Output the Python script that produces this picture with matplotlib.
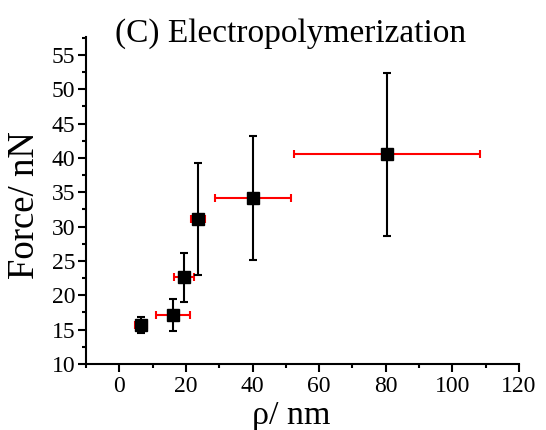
import matplotlib
matplotlib.use('Agg')
import matplotlib.pyplot as plt
from matplotlib.ticker import MultipleLocator

plt.rcParams['font.family'] = ['Liberation Serif', 'DejaVu Serif']

# pore size (nm) vs force (nN)
rho = [6.5, 16.1, 19.4, 23.6, 40.0, 80.4]
rho_err = [1.8, 5.2, 3.1, 2.2, 11.4, 28.0]
force = [15.7, 17.1, 22.6, 31.1, 34.2, 40.5]
force_err = [1.2, 2.3, 3.6, 8.1, 9.0, 11.8]

fig = plt.figure(figsize=(5.46, 4.30), dpi=100)
ax = fig.add_axes([86/546, 1 - 364/430, (519 - 86)/546, (364 - 37)/430])

ax.errorbar(rho, force, xerr=rho_err, fmt='none', ecolor='red',
            elinewidth=1.5, capsize=3.2, capthick=1.5, zorder=2)
ax.errorbar(rho, force, yerr=force_err, fmt='s', color='black', ms=8.5,
            ecolor='black', elinewidth=1.5, capsize=3.2, capthick=1.5, zorder=3)

ax.set_xlim(-10, 120)
ax.set_ylim(10, 57.6)
ax.xaxis.set_major_locator(MultipleLocator(20))
ax.xaxis.set_minor_locator(MultipleLocator(10))
ax.yaxis.set_major_locator(MultipleLocator(5))
ax.yaxis.set_minor_locator(MultipleLocator(2.5))

for s in ['top', 'right']:
    ax.spines[s].set_visible(False)
for s in ['left', 'bottom']:
    ax.spines[s].set_linewidth(1.5)

ax.tick_params(which='major', direction='out', length=5.8, width=1.5,
               labelsize=17, pad=2)
ax.tick_params(which='minor', direction='out', length=2.8, width=1.5)
ax.tick_params(axis='x', which='major', pad=3)

fig.text(291/546, 1 - 42/430, '(C) Electropolymerization', fontsize=24,
         ha='center', va='baseline')
fig.text(291/546, 1 - 424/430, 'ρ/ nm', fontsize=24.5, ha='center', va='baseline')
fig.text(25/546, 1 - 205.5/430, 'Force/ nN', fontsize=26.5, ha='center',
         va='center', rotation=90)

fig.savefig('out.png', dpi=100)
